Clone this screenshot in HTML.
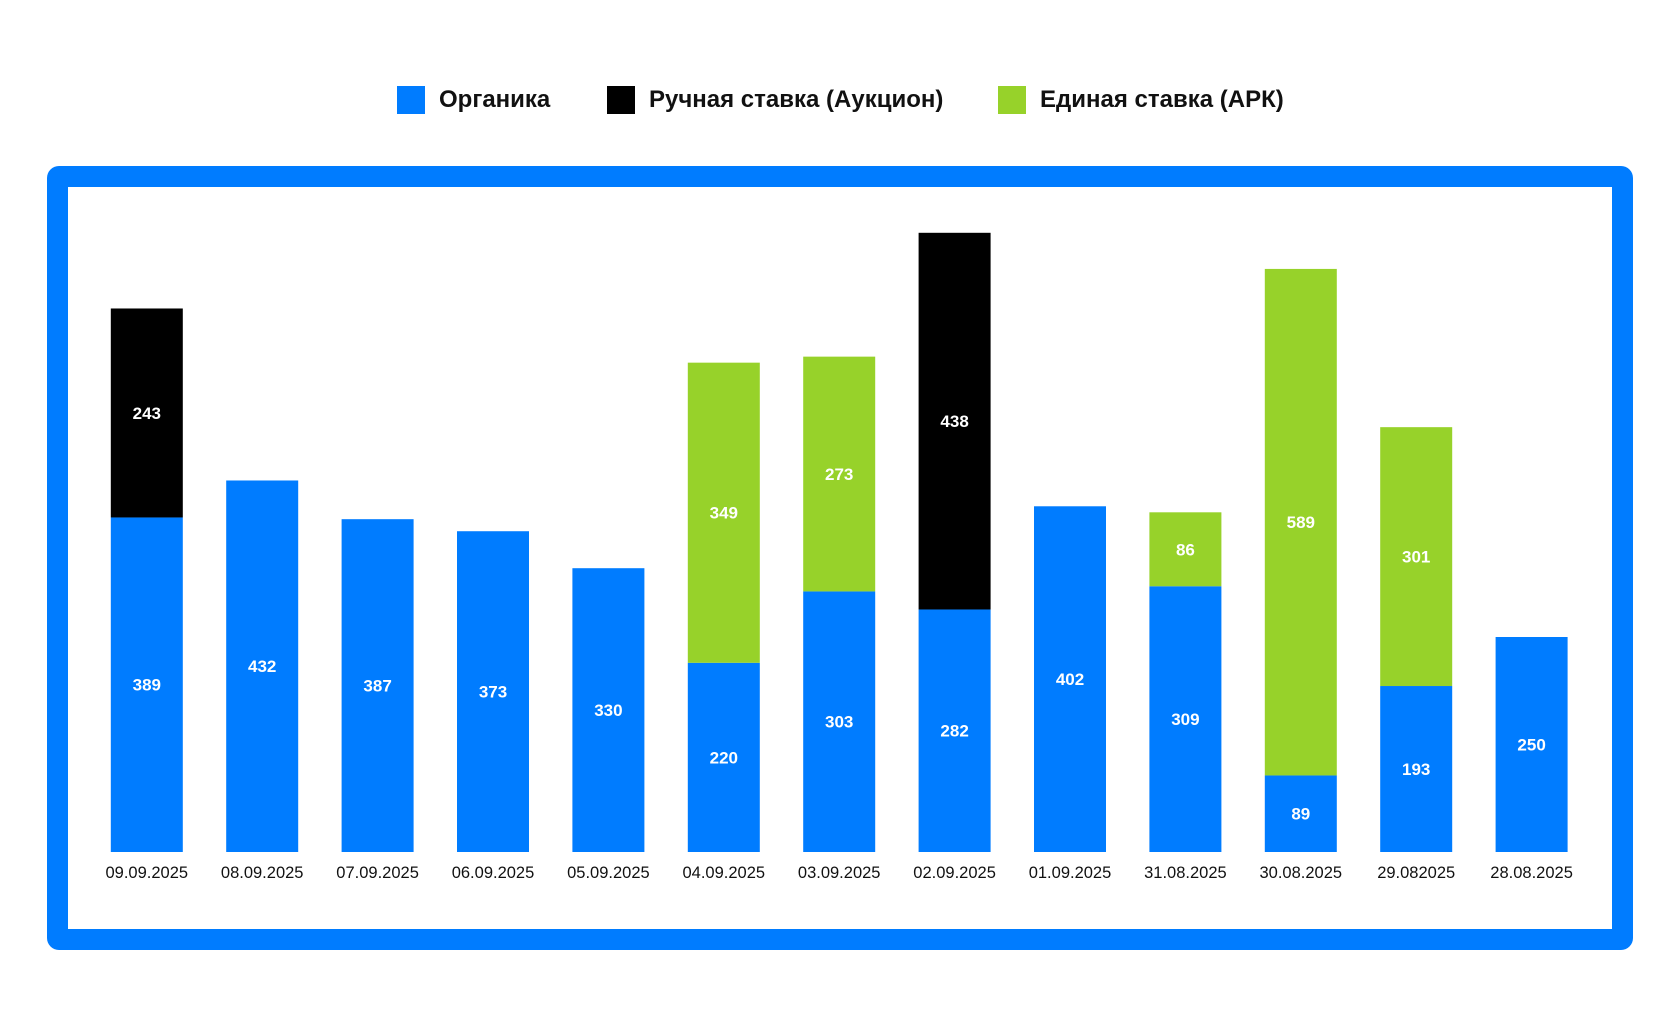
<!DOCTYPE html>
<html><head><meta charset="utf-8"><style>
body{margin:0;width:1680px;height:1028px;background:#fff;overflow:hidden;font-family:"Liberation Sans","DejaVu Sans",sans-serif}
.leg{position:absolute;top:86px;height:28px;display:flex;align-items:center;font-weight:bold;font-size:24px;color:#111}
.sw{width:28px;height:28px;margin-right:14px}
#frame{position:absolute;left:47px;top:166px;width:1544px;height:742px;border:21px solid #007cff;border-radius:12px}
</style></head><body>
<div class="leg" style="left:397px"><div class="sw" style="background:#007cff"></div>Органика</div>
<div class="leg" style="left:607px"><div class="sw" style="background:#000"></div>Ручная ставка (Аукцион)</div>
<div class="leg" style="left:998px"><div class="sw" style="background:#97d22a"></div>Единая ставка (АРК)</div>
<div id="frame"></div>
<svg id="chart" width="1680" height="1028" style="position:absolute;left:0;top:0"></svg>
<script>
const categories=["09.09.2025","08.09.2025","07.09.2025","06.09.2025","05.09.2025","04.09.2025","03.09.2025","02.09.2025","01.09.2025","31.08.2025","30.08.2025","29.082025","28.08.2025"];
const organic=[389,432,387,373,330,220,303,282,402,309,89,193,250];
const manual=[243,0,0,0,0,0,0,438,0,0,0,0,0];
const unified=[0,0,0,0,0,349,273,0,0,86,589,301,0];
const svg=document.getElementById('chart');
const NS='http://www.w3.org/2000/svg';
const x0=146.8,step=115.4,bw=72,base=852,k=0.86;
const xc=i=>x0+i*step;
const y=v=>base-v*k;
function seg(i,lo,v,color,name){
  if(!v)return;
  const r=document.createElementNS(NS,'rect');
  r.setAttribute('x',xc(i)-bw/2);r.setAttribute('y',y(lo+v));
  r.setAttribute('width',bw);r.setAttribute('height',v*k);r.setAttribute('fill',color);
  
  
  svg.appendChild(r);
  const t=document.createElementNS(NS,'text');
  t.setAttribute('x',xc(i));t.setAttribute('y',y(lo+v/2)+6);
  t.setAttribute('text-anchor','middle');t.setAttribute('fill','#fff');
  t.setAttribute('font-weight','bold');t.setAttribute('font-size','17');
  t.textContent=v;
  
  
  svg.appendChild(t);
}
categories.forEach((c,i)=>{
  seg(i,0,organic[i],'#007cff','bar-organic');
  seg(i,organic[i],manual[i],'#000','bar-manual');
  seg(i,organic[i]+manual[i],unified[i],'#97d22a','bar-unified');
  const t=document.createElementNS(NS,'text');
  t.setAttribute('x',xc(i));t.setAttribute('y',878);
  t.setAttribute('text-anchor','middle');t.setAttribute('fill','#111');
  t.setAttribute('font-size','16.5');
  t.textContent=c;
  
  
  svg.appendChild(t);
});
</script>
</body></html>
